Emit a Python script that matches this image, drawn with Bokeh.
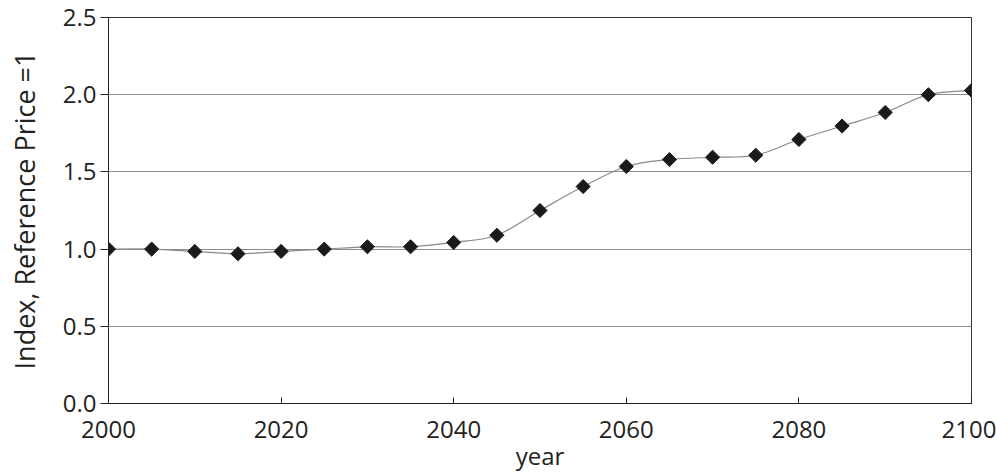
import numpy as np
from bokeh.plotting import figure
from bokeh.models import FixedTicker, Range1d, ColumnDataSource
from bokeh.embed import file_html
from bokeh.resources import INLINE

# ---- data ----
years = [2000, 2005, 2010, 2015, 2020, 2025, 2030, 2035, 2040, 2045, 2050,
         2055, 2060, 2065, 2070, 2075, 2080, 2085, 2090, 2095, 2100]
index_values = [1.00, 1.00, 0.985, 0.97, 0.985, 1.00, 1.015, 1.015, 1.043, 1.09, 1.25,
                1.405, 1.535, 1.58, 1.595, 1.608, 1.71, 1.797, 1.885, 2.00, 2.028]
x_ticks = [2000, 2020, 2040, 2060, 2080, 2100]
y_ticks = [0.0, 0.5, 1.0, 1.5, 2.0, 2.5]
y_tick_labels = {0.0: "0.0", 0.5: "0.5", 1.0: "1.0", 1.5: "1.5", 2.0: "2.0", 2.5: "2.5"}
x_title = "year"
y_title = "Index, Reference Price =1"

FONT = "Open Sans"
TXT = "#231f20"

p = figure(width=996, height=474, output_backend="svg", toolbar_location=None,
           x_range=Range1d(2000, 2100), y_range=Range1d(0, 2.5),
           min_border_left=108, min_border_right=25, min_border_top=17,
           min_border_bottom=70)
p.outline_line_color = "#333333"
p.outline_line_width = 1
p.background_fill_color = "white"
p.border_fill_color = "white"

# grid
p.xgrid.grid_line_color = None
p.ygrid.grid_line_color = "#8c8c8c"
p.ygrid.grid_line_width = 1
p.ygrid.ticker = FixedTicker(ticks=y_ticks)

# axes
p.xaxis.ticker = FixedTicker(ticks=x_ticks)
p.yaxis.ticker = FixedTicker(ticks=y_ticks)
p.yaxis.major_label_overrides = y_tick_labels
for ax in (p.xaxis[0], p.yaxis[0]):
    ax.axis_line_color = "#222222"
    ax.major_tick_line_color = "#222222"
    ax.minor_tick_line_color = None
    ax.major_label_text_font = FONT
    ax.major_label_text_font_size = "24px"
    ax.major_label_text_color = TXT
    ax.axis_label_text_font = FONT
    ax.axis_label_text_font_style = "normal"
    ax.axis_label_text_color = TXT
p.xaxis.major_tick_in = 6
p.xaxis.major_tick_out = 0
p.xaxis.major_label_standoff = 17
p.xaxis.axis_label = x_title
p.xaxis.axis_label_text_font_size = "24px"
p.xaxis.axis_label_standoff = -2
p.yaxis.major_tick_in = 0
p.yaxis.major_tick_out = 8
p.yaxis.major_label_standoff = 4
p.yaxis.axis_label = y_title
p.yaxis.axis_label_text_font_size = "27px"
p.yaxis.axis_label_standoff = 17

# smooth connecting curve (Catmull-Rom -> cubic Bezier) derived from the data
xs = np.array(years, dtype=float)
ys = np.array(index_values, dtype=float)
n = len(xs)
x0, y0, x1, y1, cx0, cy0, cx1, cy1 = ([] for _ in range(8))
for i in range(n - 1):
    im1 = max(i - 1, 0)
    ip2 = min(i + 2, n - 1)
    x0.append(xs[i]); y0.append(ys[i])
    x1.append(xs[i + 1]); y1.append(ys[i + 1])
    cx0.append(xs[i] + (xs[i + 1] - xs[im1]) / 6.0)
    cy0.append(ys[i] + (ys[i + 1] - ys[im1]) / 6.0)
    cx1.append(xs[i + 1] - (xs[ip2] - xs[i]) / 6.0)
    cy1.append(ys[i + 1] - (ys[ip2] - ys[i]) / 6.0)
bez = ColumnDataSource(dict(x0=x0, y0=y0, x1=x1, y1=y1, cx0=cx0, cy0=cy0, cx1=cx1, cy1=cy1))
p.bezier(x0="x0", y0="y0", x1="x1", y1="y1", cx0="cx0", cy0="cy0", cx1="cx1", cy1="cy1",
         source=bez, line_color="#8a8a8a", line_width=1.2)

src = ColumnDataSource(dict(year=years, val=index_values))
p.scatter("year", "val", source=src, marker="square", size=10, angle=np.pi / 4,
          fill_color="#1a1a1a", line_color="#1a1a1a", line_width=1)

open("out.html", "w").write(file_html(p, INLINE))
